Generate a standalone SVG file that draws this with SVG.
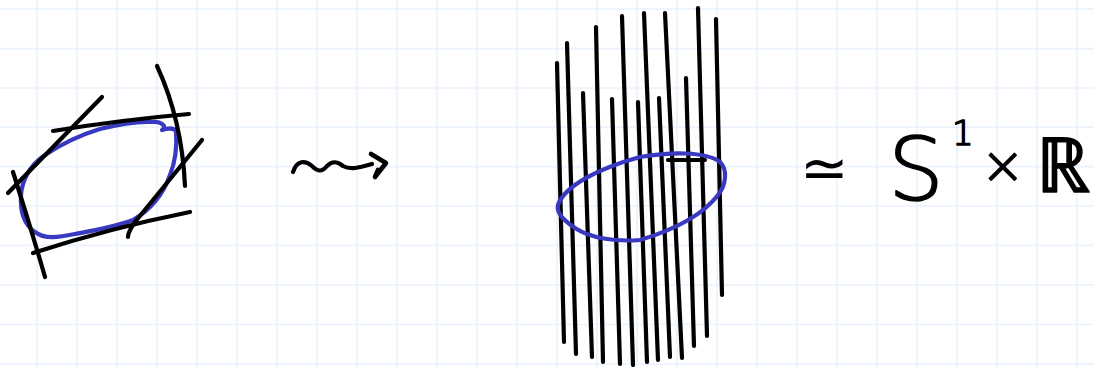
<svg xmlns="http://www.w3.org/2000/svg" width="1094" height="367" viewBox="0 0 1094 367">
<style>
.grid{stroke:#e9f2fd;stroke-width:1.6;fill:none}
.ink{stroke:#000;stroke-width:4.2;fill:none;stroke-linecap:round;stroke-linejoin:round}
.blue{stroke:#3838c0;stroke-width:4.2;fill:none;stroke-linecap:round;stroke-linejoin:round}
.txt{font-family:"DejaVu Sans","Liberation Sans",sans-serif;font-weight:200;fill:#000;stroke:#000;stroke-width:1.6;stroke-linejoin:round}
</style>
<rect width="1094" height="367" fill="#fff"/>
<g id="grid" class="grid">
<path d="M37,0V367M77,0V367M117,0V367M157,0V367M197,0V367M237,0V367M277,0V367M317,0V367M357,0V367M397,0V367M437,0V367M477,0V367M517,0V367M557,0V367M597,0V367M637,0V367M677,0V367M717,0V367M757,0V367M797,0V367M837,0V367M877,0V367M917,0V367M957,0V367M997,0V367M1037,0V367M1077,0V367"/>
<path d="M0,9H1094M0,48.6H1094M0,88H1094M0,127.2H1094M0,166.6H1094M0,206H1094M0,245.4H1094M0,285H1094M0,324.5H1094M0,364H1094"/>
</g>
<g id="polygon-circle">
<path class="blue" d="M153,122 C160,121 168,126 162,130 C168,128 174,128 176,131 C177,145 176,160 170,175 C163,195 150,210 133,220 C115,227 95,230 75,234 C60,237 45,240 35,232 C23,224 20,210 21,195 C22,180 30,165 45,155 C60,145 80,135 100,129 C120,124 140,121 153,122 Z"/>
<path class="ink" d="M13,172 Q30,225 45,277"/>
<path class="ink" d="M8,193 L102,97"/>
<path class="ink" d="M53,131 Q120,120 189,114"/>
<path class="ink" d="M157,66 Q182,120 185,186"/>
<path class="ink" d="M202,140 L135,222 Q128,232 128,237"/>
<path class="ink" d="M33,253 Q110,228 190,212"/>
</g>
<g id="connectors">
<path class="ink" d="M293,172 C297,160 305,160 312,166 C318,172 322,172 327,166 C333,160 338,162 343,166 C350,170 358,168 372,164"/>
<path class="ink" style="stroke-width:4.6" d="M371,154 L386,163 L375,177 L378,170"/>
</g>
<g id="cylinder">
<path class="ink" d="M557,63L564,342M567,43L576,354M583,93L592,357M596,27L603,362M612,99L620,364M622,16L633,365M638,102L647,362M644,13L658,360M659,98L670,357M665,13L682,358M686,78L694,346M698,8L707,336M716,19L722,295"/>
<path class="blue" d="M558,205 C565,185 600,168 640,157 C670,152 705,151 720,162 C728,170 726,185 718,195 C705,212 680,228 640,240 C615,242 590,238 575,228 C563,220 556,212 558,205 Z"/>
<path class="ink" d="M668,160 L705,160"/>
</g>
<g id="label">
<text class="txt"><tspan x="800" y="188" font-size="58" style="stroke-width:0">≃</tspan><tspan x="888" y="200" font-size="88">S</tspan><tspan x="952" y="145" font-size="34">1</tspan><tspan x="981" y="183" font-size="52">×</tspan><tspan x="1036" y="192" font-size="76">ℝ</tspan></text>
</g>
</svg>
